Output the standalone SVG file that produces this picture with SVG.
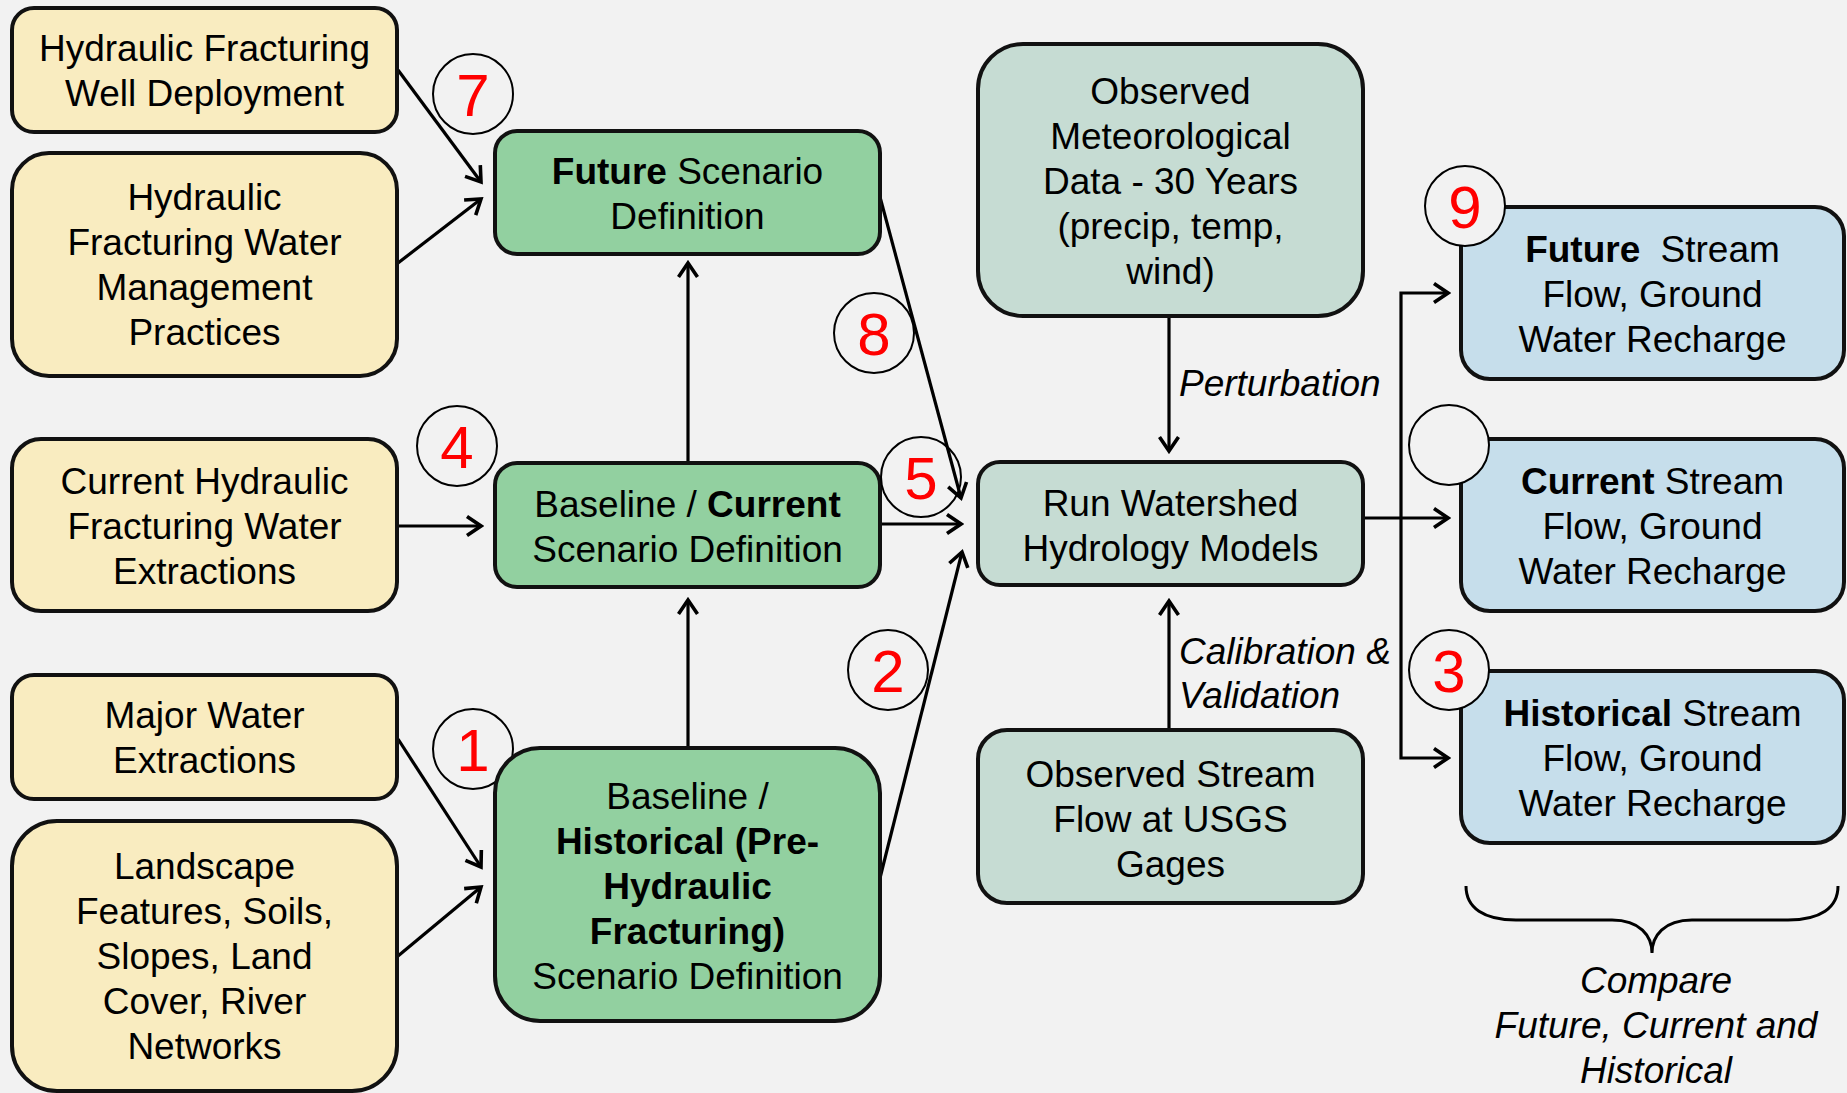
<svg xmlns="http://www.w3.org/2000/svg" width="1847" height="1093" viewBox="0 0 1847 1093">
<style>
.box{stroke:#111;stroke-width:4}
.y{fill:#F9ECC0}.g{fill:#92D0A0}.s{fill:#C6DCD3}.b{fill:#C6DEEB}
text{font-family:"Liberation Sans",Arial,sans-serif;font-size:37px;fill:#000}
.t{text-anchor:middle}
.bd{font-weight:bold}
.it{font-style:italic}
.num{font-size:60px;fill:#FF0000;text-anchor:middle}
.cc{stroke:#000;stroke-width:2}
.ln{fill:none;stroke:#000;stroke-width:3.2;marker-end:url(#ah)}
</style>
<defs>
<marker id="ah" viewBox="-17 -12 20 24" refX="0" refY="0" markerWidth="20" markerHeight="24" markerUnits="userSpaceOnUse" orient="auto">
<path d="M-14,-9.5 L0,0 L-14,9.5" fill="none" stroke="#000" stroke-width="3.6"/>
</marker>
</defs>
<rect width="1847" height="1093" fill="#F2F2F2"/>

<g id="circle1"><circle class="cc" cx="473" cy="749" r="40" fill="none"/></g>

<g id="connectors">
<path class="ln" d="M398,70 L481,182"/>
<path class="ln" d="M398,263 L481,199"/>
<path class="ln" d="M397,526 L481,526"/>
<path class="ln" d="M398,739 L481,867"/>
<path class="ln" d="M398,956 L481,887"/>
<path class="ln" d="M688,748 L688,600"/>
<path class="ln" d="M688,463 L688,263"/>
<path class="ln" d="M880,197 L961,498"/>
<path class="ln" d="M880,524 L961,524"/>
<path class="ln" d="M880,878 L962,552"/>
<path class="ln" d="M1169,316 L1169,451"/>
<path class="ln" d="M1169,730 L1169,601"/>
<path class="ln" d="M1363,518 L1448,518"/>
<path class="ln" d="M1401,520 L1401,293 L1448,293"/>
<path class="ln" d="M1401,520 L1401,758 L1448,758"/>
</g>

<g id="n-well"><rect class="box y" x="12" y="8" width="385" height="124" rx="22"/>
<text class="t" x="204.5" y="61">Hydraulic Fracturing</text><text class="t" x="204.5" y="106">Well Deployment</text></g>

<g id="n-mgmt"><rect class="box y" x="12" y="153" width="385" height="223" rx="37"/>
<text class="t" x="204.5" y="210">Hydraulic</text><text class="t" x="204.5" y="255">Fracturing Water</text><text class="t" x="204.5" y="300">Management</text><text class="t" x="204.5" y="345">Practices</text></g>

<g id="n-curext"><rect class="box y" x="12" y="439" width="385" height="172" rx="29"/>
<text class="t" x="204.5" y="494">Current Hydraulic</text><text class="t" x="204.5" y="539">Fracturing Water</text><text class="t" x="204.5" y="584">Extractions</text></g>

<g id="n-major"><rect class="box y" x="12" y="675" width="385" height="124" rx="22"/>
<text class="t" x="204.5" y="728">Major Water</text><text class="t" x="204.5" y="773">Extractions</text></g>

<g id="n-land"><rect class="box y" x="12" y="821" width="385" height="270" rx="45"/>
<text class="t" x="204.5" y="879">Landscape</text><text class="t" x="204.5" y="924">Features, Soils,</text><text class="t" x="204.5" y="969">Slopes, Land</text><text class="t" x="204.5" y="1014">Cover, River</text><text class="t" x="204.5" y="1059">Networks</text></g>

<g id="n-future"><rect class="box g" x="495" y="131" width="385" height="123" rx="22"/>
<text class="t" x="687.5" y="184"><tspan class="bd">Future</tspan> Scenario</text><text class="t" x="687.5" y="229">Definition</text></g>

<g id="n-current"><rect class="box g" x="495" y="463" width="385" height="124" rx="22"/>
<text class="t" x="687.5" y="517">Baseline / <tspan class="bd">Current</tspan></text><text class="t" x="687.5" y="562">Scenario Definition</text></g>

<g id="n-hist"><rect class="box g" x="495" y="748" width="385" height="273" rx="45"/>
<text class="t" x="687.5" y="809">Baseline /</text><text class="t bd" x="687.5" y="854">Historical (Pre-</text><text class="t bd" x="687.5" y="899">Hydraulic</text><text class="t bd" x="687.5" y="944">Fracturing)</text><text class="t" x="687.5" y="989">Scenario Definition</text></g>

<g id="n-met"><rect class="box s" x="978" y="44" width="385" height="272" rx="45"/>
<text class="t" x="1170.5" y="104">Observed</text><text class="t" x="1170.5" y="149">Meteorological</text><text class="t" x="1170.5" y="194">Data - 30 Years</text><text class="t" x="1170.5" y="239">(precip, temp,</text><text class="t" x="1170.5" y="284">wind)</text></g>

<g id="n-run"><rect class="box s" x="978" y="462" width="385" height="123" rx="22"/>
<text class="t" x="1170.5" y="516">Run Watershed</text><text class="t" x="1170.5" y="561">Hydrology Models</text></g>

<g id="n-obs"><rect class="box s" x="978" y="730" width="385" height="173" rx="29"/>
<text class="t" x="1170.5" y="787">Observed Stream</text><text class="t" x="1170.5" y="832">Flow at USGS</text><text class="t" x="1170.5" y="877">Gages</text></g>

<g id="n-fs"><rect class="box b" x="1461" y="207" width="383" height="172" rx="29"/>
<text class="t" x="1652.5" y="262"><tspan class="bd">Future</tspan><tspan dx="10"> Stream</tspan></text><text class="t" x="1652.5" y="307">Flow, Ground</text><text class="t" x="1652.5" y="352">Water Recharge</text></g>

<g id="n-cs"><rect class="box b" x="1461" y="439" width="383" height="172" rx="29"/>
<text class="t" x="1652.5" y="494"><tspan class="bd">Current</tspan> Stream</text><text class="t" x="1652.5" y="539">Flow, Ground</text><text class="t" x="1652.5" y="584">Water Recharge</text></g>

<g id="n-hs"><rect class="box b" x="1461" y="671" width="383" height="172" rx="29"/>
<text class="t" x="1652.5" y="726"><tspan class="bd">Historical</tspan> Stream</text><text class="t" x="1652.5" y="771">Flow, Ground</text><text class="t" x="1652.5" y="816">Water Recharge</text></g>

<g id="labels">
<text class="it" x="1179" y="396">Perturbation</text>
<text class="it" x="1179" y="664">Calibration &amp;</text>
<text class="it" x="1179" y="708">Validation</text>
<path d="M1466,886 C1466,908 1484,920 1516,920 L1612,920 C1640,920 1652,936 1652,953 C1652,936 1664,920 1692,920 L1788,920 C1820,920 1838,908 1838,886" fill="none" stroke="#000" stroke-width="3"/>
<text class="t it" x="1656" y="993">Compare</text>
<text class="t it" x="1656" y="1038">Future, Current and</text>
<text class="t it" x="1656" y="1083">Historical</text>
</g>

<g id="markers">
<text class="num" x="473" y="771">1</text>
<circle class="cc" cx="888" cy="670" r="40" fill="none"/><text class="num" x="888" y="692">2</text>
<circle class="cc" cx="1449" cy="670" r="40" fill="#F2F2F2"/><text class="num" x="1449" y="692">3</text>
<circle class="cc" cx="457" cy="446" r="40" fill="none"/><text class="num" x="457" y="468">4</text>
<circle class="cc" cx="921" cy="477" r="40" fill="none"/><text class="num" x="921" y="499">5</text>
<circle class="cc" cx="1449" cy="445" r="40" fill="#F2F2F2"/>
<circle class="cc" cx="473" cy="94" r="40" fill="none"/><text class="num" x="473" y="116">7</text>
<circle class="cc" cx="874" cy="333" r="40" fill="none"/><text class="num" x="874" y="355">8</text>
<circle class="cc" cx="1465" cy="206" r="40" fill="#F2F2F2"/><text class="num" x="1465" y="228">9</text>
</g>
</svg>
